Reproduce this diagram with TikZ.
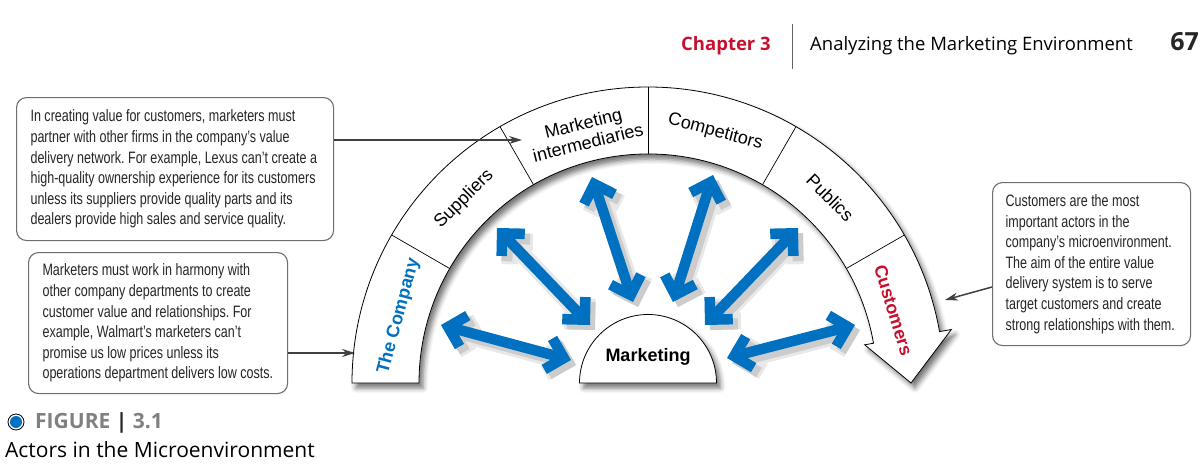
\documentclass[tikz,border=0pt]{standalone}
\usepackage{fontspec}
\setmainfont{Liberation Sans}
\newfontfamily\narrowfont[FakeStretch=0.76]{Liberation Sans}
\newfontfamily\headfont{Open Sans}
\usetikzlibrary{arrows.meta,shadows.blur,calc}
\definecolor{mktblue}{RGB}{0,112,192}
\definecolor{mktred}{RGB}{200,16,46}
\definecolor{boxline}{RGB}{110,110,110}
\definecolor{figgray}{RGB}{128,128,128}
\tikzset{
  infobox/.style={draw=boxline, line width=1.1pt, rounded corners=10pt, fill=white,
    anchor=north west, align=flush left, inner xsep=14pt, inner ysep=0pt,
    font=\narrowfont\fontsize{16.5}{20.6}\selectfont, text=black!85},
  callout/.style={draw=black!75, line width=1.5pt, -{Stealth[length=13pt,width=8pt]}},
  bandlabel/.style={inner sep=0pt, align=center},
  twoway/.style={draw=mktblue, line width=10.5pt,
    {Straight Barb[length=16pt,width=32pt]}-{Straight Barb[length=16pt,width=32pt]},
    preaction={draw=black!9, line width=17pt, transform canvas={shift={(5pt,-5pt)}}},
    preaction={draw=black!20, line width=11pt, transform canvas={shift={(5pt,-5pt)}}}},
  segline/.style={draw=black, line width=0.7pt},
  shapeshadow/.style={blur shadow={shadow xshift=4pt, shadow yshift=-5pt, shadow blur radius=5pt, shadow opacity=55}},
}
\begin{document}
\frenchspacing
\begin{tikzpicture}[x=1pt,y=1pt]
\useasboundingbox (0,0) rectangle (1204,467);
\coordinate (C) at (648,84);

% header
\node[font=\headfont\bfseries\fontsize{18.5}{20}\selectfont, text=mktred, anchor=base west, inner sep=0pt] (chap) at (681,416) {Chapter 3};
\draw[black!60, line width=0.8pt] (792,443) -- (792,398);
\node[font=\headfont\fontsize{18.5}{20}\selectfont, anchor=base west, inner sep=0pt] (title) at (810,416) {Analyzing the Marketing Environment};
\node[font=\headfont\bfseries\fontsize{25}{27}\selectfont, anchor=base east, inner sep=0pt, text=black!85] (page) at (1199,416) {67};

% band with arrow end
\path[shapeshadow, fill=white, draw=black, line width=0.8pt]
  ([shift={(C)}]180:296) arc[start angle=180, end angle=10, radius=296]
  -- ([shift={(C)}]10:308) -- ([shift={(C)}]0:263) -- ([shift={(C)}]10:220)
  -- ([shift={(C)}]10:229) arc[start angle=10, end angle=180, radius=229] -- cycle;
\foreach \a in {150,120,90,60,30}
  \draw[segline] ([shift={(C)}]\a:229) -- ([shift={(C)}]\a:296);

% band labels
\node[bandlabel, rotate=75, text=mktblue, font=\bfseries\fontsize{18}{20}\selectfont] (company) at ([shift={(C)}]165:258) {The Company};
\node[bandlabel, rotate=45, font=\fontsize{18}{20}\selectfont] (suppliers) at ([shift={(C)}]135:260) {Suppliers};
\node[bandlabel, rotate=14, font=\fontsize{18}{20}\selectfont] (intermed) at ([shift={(C)}]104:258) {Marketing\\intermediaries};
\node[bandlabel, rotate=-15, font=\fontsize{18}{20}\selectfont] (competitors) at ([shift={(C)}]75:260) {Competitors};
\node[bandlabel, rotate=-45, font=\fontsize{18}{20}\selectfont] (publics) at ([shift={(C)}]45.5:260) {Publics};
\node[bandlabel, rotate=-73, text=mktred, font=\bfseries\fontsize{18}{20}\selectfont] (customers) at ([shift={(C)}]16.5:256) {Customers};

% marketing dome
\path[shapeshadow, fill=white, draw=black, line width=0.8pt]
  ([shift={(C)}]0:68.5) arc[start angle=0, end angle=180, radius=68.5] -- cycle;
\node[font=\bfseries\fontsize{18}{20}\selectfont] (mkt) at (648,110) {Marketing};

% blue two-way arrows
\coordinate (aCo1) at (441,142); \coordinate (aCo2) at (571,107);
\coordinate (aSu1) at (497,239); \coordinate (aSu2) at (590,142);
\coordinate (aMI1) at (592,290); \coordinate (aMI2) at (633,165);
\coordinate (aCp1) at (713,292); \coordinate (aCp2) at (673,165);
\coordinate (aPu1) at (798,239); \coordinate (aPu2) at (705,142);
\coordinate (aCu1) at (855,142); \coordinate (aCu2) at (727,109);
\draw[twoway] (aCo2) -- (aCo1);
\draw[twoway] (aSu2) -- (aSu1);
\draw[twoway] (aMI2) -- (aMI1);
\draw[twoway] (aCp2) -- (aCp1);
\draw[twoway] (aPu2) -- (aPu1);
\draw[twoway] (aCu2) -- (aCu1);

% info boxes
\node[infobox, minimum width=317pt, minimum height=143pt, text width=289pt] (box1) at (16,370) {In creating value for customers, marketers must\\
partner with other firms in the company’s value\\
delivery network. For example, Lexus can’t create a\\
high-quality ownership experience for its customers\\
unless its suppliers provide quality parts and its\\
dealers provide high sales and service quality.};
\node[infobox, minimum width=259pt, minimum height=141pt, text width=231pt] (box2) at (28,215) {Marketers must work in harmony with\\
other company departments to create\\
customer value and relationships. For\\
example, Walmart’s marketers can’t\\
promise us low prices unless its\\
operations department delivers low costs.};
\node[infobox, minimum width=198pt, minimum height=163pt, text width=172pt, inner xsep=13pt] (box3) at (992,285) {Customers are the most\\
important actors in the\\
company’s microenvironment.\\
The aim of the entire value\\
delivery system is to serve\\
target customers and create\\
strong relationships with them.};

% callout connectors
\coordinate (t1) at (522,327);
\draw[callout] (box1.east |- t1) -- (t1);
\coordinate (t2) at (355,114);
\draw[callout] (box2.east |- t2) -- (t2);
\coordinate (s3) at (992,180); \coordinate (t3) at (945,167);
\draw[callout] (box3.west |- s3) -- (t3);

% figure caption
\node[circle, draw=black, fill=white, line width=0.8pt, minimum size=16pt, inner sep=0pt] (bul) at (16,45) {};
\fill[mktblue] (bul.center) circle[radius=6pt];
\node[font=\headfont\bfseries\fontsize{21}{23}\selectfont, anchor=base west, inner sep=0pt, text=figgray] (figlabel) at (35,39) {FIGURE \textcolor{black!85}{|} 3.1};
\node[font=\headfont\fontsize{21}{23}\selectfont, anchor=base west, inner sep=0pt] (figtitle) at (5,10) {Actors in the Microenvironment};
\end{tikzpicture}
\end{document}
